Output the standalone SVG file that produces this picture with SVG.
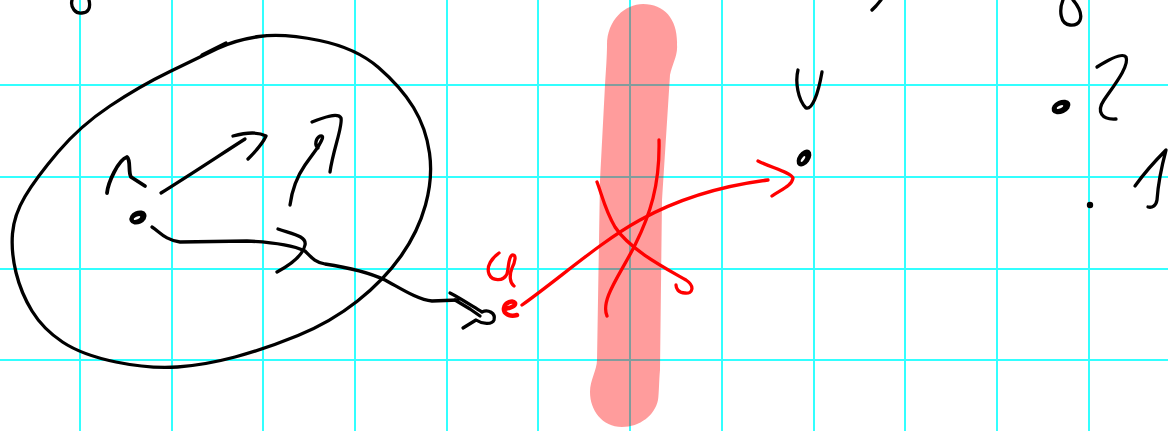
<svg xmlns="http://www.w3.org/2000/svg" width="1168" height="431" viewBox="0 0 1168 431">
<style>
.grid line{stroke:#33ffff;stroke-width:2}
.ink{fill:none;stroke:#000;stroke-width:3.3;stroke-linecap:round;stroke-linejoin:round}
.red{fill:none;stroke:#ff0000;stroke-width:3.3;stroke-linecap:round;stroke-linejoin:round}
.dot{fill:#000;stroke:#000;stroke-width:2}
.slit{fill:#fff}
</style>
<rect width="1168" height="431" fill="#fff"/>
<g id="grid" class="grid">
<line x1="80" y1="0" x2="80" y2="431"/><line x1="172" y1="0" x2="172" y2="431"/><line x1="263" y1="0" x2="263" y2="431"/><line x1="355" y1="0" x2="355" y2="431"/><line x1="447" y1="0" x2="447" y2="431"/><line x1="538" y1="0" x2="538" y2="431"/><line x1="630" y1="0" x2="630" y2="431"/><line x1="722" y1="0" x2="722" y2="431"/><line x1="814" y1="0" x2="814" y2="431"/><line x1="905" y1="0" x2="905" y2="431"/><line x1="997" y1="0" x2="997" y2="431"/><line x1="1089" y1="0" x2="1089" y2="431"/>
<line x1="0" y1="85" x2="1168" y2="85"/><line x1="0" y1="177" x2="1168" y2="177"/><line x1="0" y1="269" x2="1168" y2="269"/><line x1="0" y1="360" x2="1168" y2="360"/>
</g>
<g id="barrier">
<path d="M 607 45 C 607 20 625 4 643 4 C 665 4 678 20 677 45 C 678 55 672 65 670 75 L 662 200 L 660 370 C 659 380 659 395 658 400 C 655 415 640 427 622 427 C 602 427 590 410 590 392 C 590 380 597 370 597 360 L 600 180 L 605 85 C 606 70 607 55 607 45 Z" fill="#ff0000" fill-opacity="0.39"/>
</g>
<g id="marks" class="ink">
<path d="M 72 0 C 70 8 76 14 82 13 C 88 13 91 8 89 0"/>
<path d="M 872 10 L 876 6 L 881 0"/>
<path d="M 1063 0 C 1059 10 1060 24 1070 25 C 1080 26 1083 18 1079 9 C 1077 5 1075 2 1073 0"/>
</g>
<g id="region">
<path class="ink" d="M 170 71.5 Q 140 86 110 106 Q 80 126 58 152 Q 36 178 25 196.5 Q 14 215 12.5 233.5 Q 11 252 16 272.5 Q 21 293 32 311 Q 43 329 62.5 342 Q 82 355 116 362 Q 150 369 177.5 367 Q 205 365 235 357 Q 265 349 298 335.5 Q 331 322 357.5 301 Q 384 280 401 256 Q 418 232 425.5 205 Q 433 178 429.5 153 Q 426 128 413.5 107.5 Q 401 87 378.5 67.5 Q 356 48 319.5 40.5 Q 283 33 259 36.5 Q 235 40 217.5 48.5 Q 200 57 170 71.5 Z"/>
<path class="ink" d="M 202 55 L 226 43"/>
</g>
<g id="node-r">
<ellipse class="dot" cx="138" cy="217.5" rx="8" ry="5.5" transform="rotate(-25 138 217.5)"/>
<ellipse class="slit" cx="137" cy="218" rx="3.5" ry="1.3" transform="rotate(-25 137 218)"/>
<path class="ink" style="stroke-width:3.8" d="M 107 193 C 108 183 118 160 127 157 C 131 160 128 172 131 177 L 145 186"/>
</g>
<g id="node-u">
<path class="red" style="stroke-width:4.5" d="M 505 309 C 510 308 516 306 515 303 C 513 300 505 302 504 308 C 503 314 510 317 517 315"/>
<path class="red" d="M 499 253 C 492 258 486 266 489 274 C 492 281 503 282 507 274 C 509 267 508 258 512 255 C 517 254 515 262 512 268 C 509 276 510 283 514 286"/>
</g>
<g id="node-v">
<ellipse class="dot" cx="804" cy="158" rx="8.5" ry="5" transform="rotate(-55 804 158)"/>
<ellipse class="slit" cx="803" cy="159" rx="3.5" ry="1.2" transform="rotate(-55 803 159)"/>
<path class="ink" d="M 798 70 C 795 82 798 100 806 108 C 812 110 818 95 822 72"/>
</g>
<g id="node-a">
<ellipse class="dot" cx="1061" cy="107" rx="9" ry="5.5" transform="rotate(-25 1061 107)"/>
<ellipse class="slit" cx="1060" cy="107" rx="3.5" ry="1.3" transform="rotate(-25 1060 107)"/>
<path class="ink" d="M 1097 67 C 1108 60 1122 52 1126 57 C 1130 66 1112 88 1104 100 C 1096 112 1102 120 1116 119"/>
</g>
<g id="node-b">
<circle cx="1090" cy="205" r="3.2" fill="#000"/>
<path class="ink" d="M 1135 186 C 1145 172 1158 158 1166 150 C 1162 165 1158 185 1157 200 C 1156 206 1152 208 1148 207"/>
</g>
<g id="connectors">
<path class="ink" d="M 161 193 C 190 175 220 155 245 139"/>
<path class="ink" d="M 233 136 Q 255 130 266 136 Q 262 145 248 159"/>
<path class="ink" d="M 290 205 C 292 190 296 178 305 165 L 318 147 C 322 140 325 135 320 136 C 316 138 314 145 318 148"/>
<path class="ink" d="M 312 122 C 322 118 338 112 341 118 C 343 126 333 150 330 172"/>
<path class="ink" d="M 152 227 C 160 232 165 240 180 242 L 247 241 C 270 242 290 244 305 251 C 312 258 315 262 325 264 C 345 267 368 272 385 280 C 400 288 418 300 432 301 L 458 300"/>
<path class="ink" d="M 278 229 C 292 234 307 236 305 245 C 303 255 290 265 277 272"/>
<path class="ink" d="M 450 293 C 460 298 472 306 482 312 C 488 309 496 313 494 320 C 492 325 482 324 476 320 L 463 328"/>
<path class="ink" d="M 455 300 L 470 309 L 480 316"/>
<path class="red" d="M 522 305 C 560 278 600 242 640 220 C 680 198 720 186 768 180"/>
<path class="red" d="M 758 161 C 772 168 790 172 793 178 C 792 186 780 190 772 196"/>
<path class="red" d="M 659 140 C 660 185 650 215 635 245 C 620 275 600 300 607 316"/>
<path class="red" d="M 597 182 C 602 195 605 210 615 227 C 630 250 665 268 686 280 C 695 286 693 294 685 293 C 678 293 676 288 676 285"/>
</g>
</svg>
